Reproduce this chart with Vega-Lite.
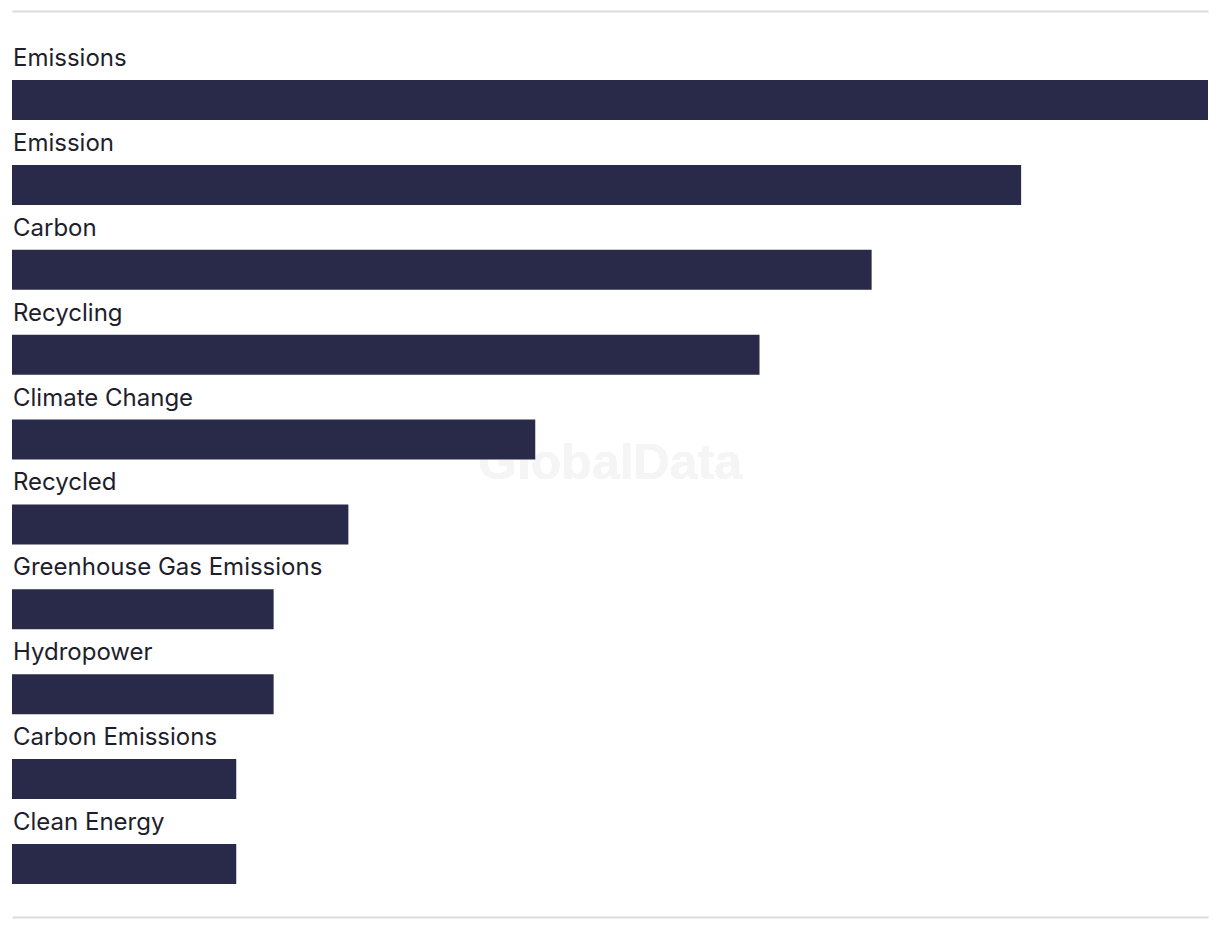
{
  "$schema": "https://vega.github.io/schema/vega-lite/v6.json",
  "width": 1200,
  "height": 906,
  "autosize": {"type": "none"},
  "padding": {"left": 10, "top": 11, "right": 10, "bottom": 11},
  "background": "#ffffff",
  "config": {"view": {"stroke": null}},
  "data": {
    "values": [
      {"theme": "Emissions", "count": 32},
      {"theme": "Emission", "count": 27},
      {"theme": "Carbon", "count": 23},
      {"theme": "Recycling", "count": 20},
      {"theme": "Climate Change", "count": 14},
      {"theme": "Recycled", "count": 9},
      {"theme": "Greenhouse Gas Emissions", "count": 7},
      {"theme": "Hydropower", "count": 7},
      {"theme": "Carbon Emissions", "count": 6},
      {"theme": "Clean Energy", "count": 6}
    ]
  },
  "resolve": {"axis": {"x": "independent"}},
  "layer": [
    {
      "mark": {"type": "text", "text": "GlobalData", "font": "Liberation Sans", "fontWeight": "bold", "fontSize": 50, "color": "#f5f5f5", "align": "center", "baseline": "middle"},
      "encoding": {}
    },
    {
      "mark": {"type": "bar", "size": 40, "color": "#29294a"},
      "encoding": {
        "y": {"field": "theme", "type": "nominal", "sort": null,
              "scale": {"paddingInner": 0, "paddingOuter": 0.3364, "align": 0.815},
              "axis": null},
        "x": {"field": "count", "type": "quantitative",
              "scale": {"domain": [0, 32], "range": [2, 1198], "nice": false, "zero": true},
              "axis": {"orient": "top", "domain": true, "domainColor": "#dcdcdc", "domainWidth": 2, "labels": false, "ticks": false, "grid": false, "title": null}}
      }
    },
    {
      "mark": {"type": "text", "align": "left", "baseline": "alphabetic", "dx": 1, "dy": -34, "font": "Inter", "fontSize": 24, "color": "#1e1e2c"},
      "encoding": {
        "y": {"field": "theme", "type": "nominal", "sort": null},
        "x": {"datum": 0, "type": "quantitative",
              "axis": {"orient": "bottom", "domain": true, "domainColor": "#dcdcdc", "domainWidth": 2, "labels": false, "ticks": false, "grid": false, "title": null}},
        "text": {"field": "theme"}
      }
    }
  ]
}
